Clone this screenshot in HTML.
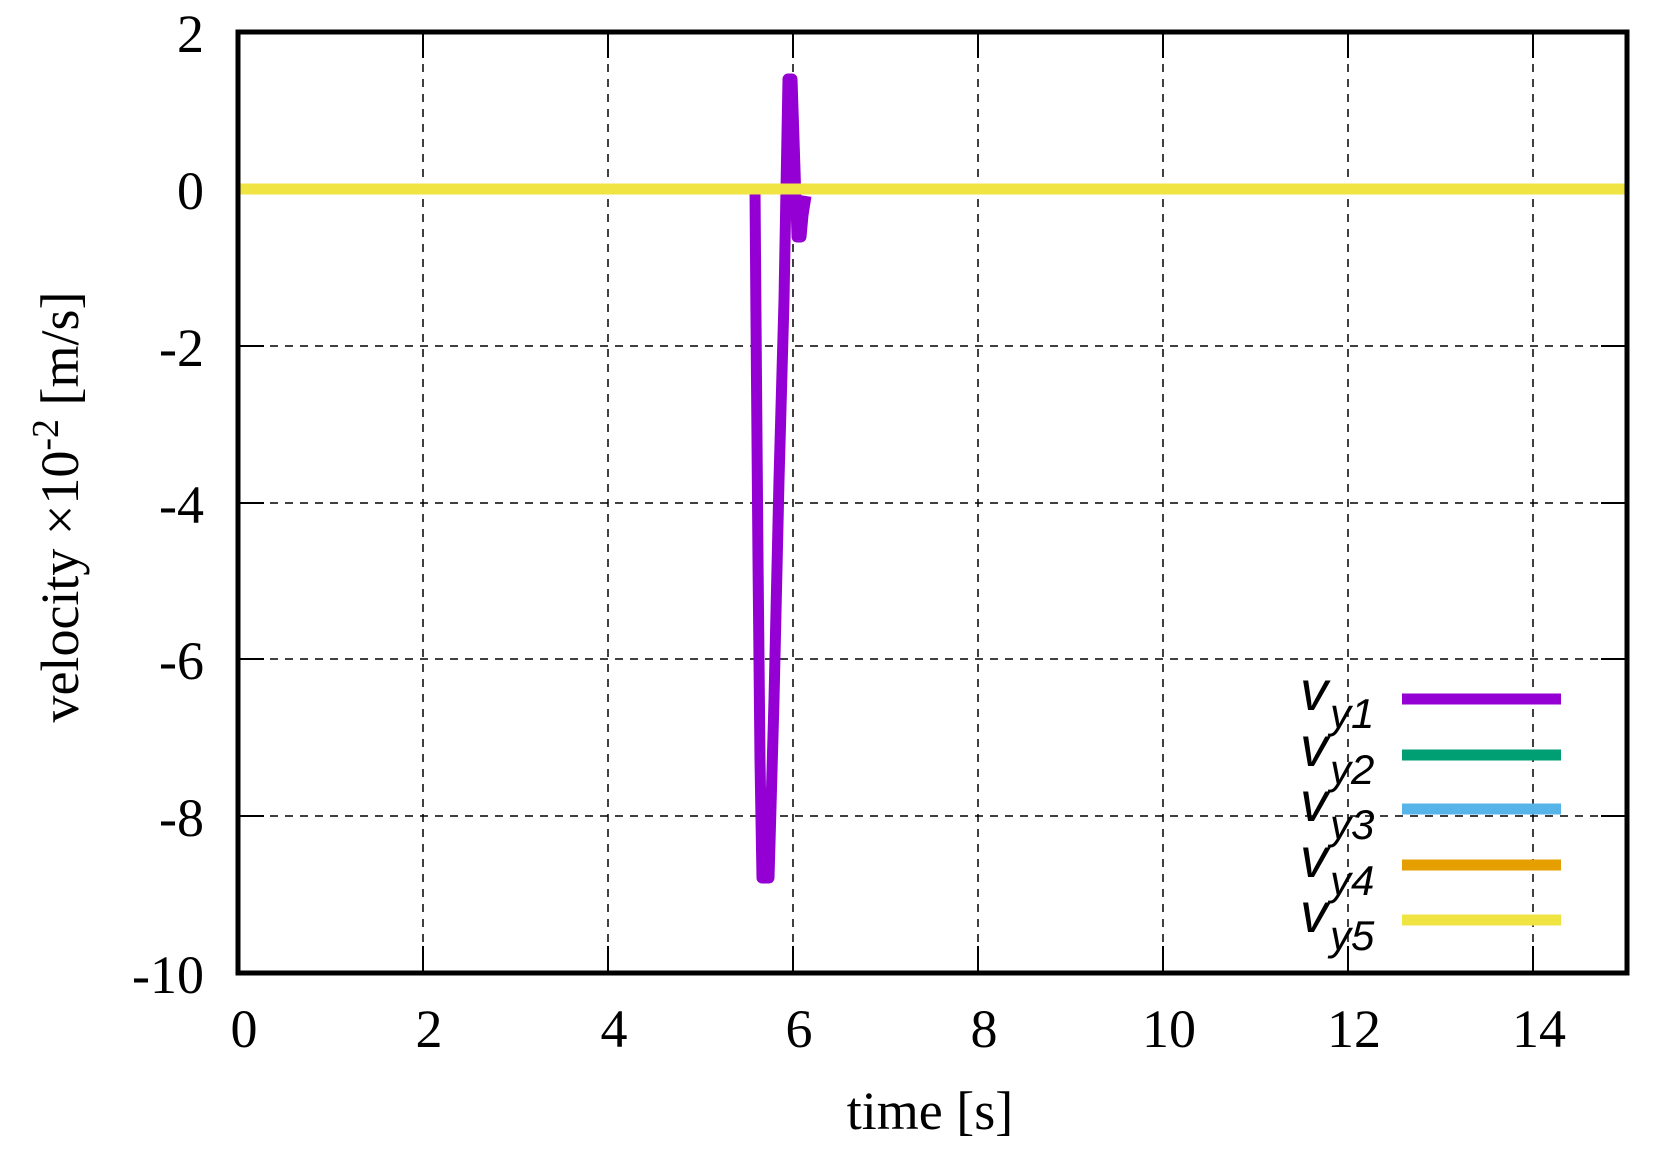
<!DOCTYPE html>
<html><head><style>body{margin:0;background:#fff}svg{display:block}</style></head><body>
<svg width="1657" height="1150" xmlns="http://www.w3.org/2000/svg">
<rect width="1657" height="1150" fill="#fff"/>
<g stroke="#000" stroke-width="1.5" stroke-dasharray="8,7">
<line x1="423" y1="34" x2="423" y2="971"/><line x1="608" y1="34" x2="608" y2="971"/><line x1="793" y1="34" x2="793" y2="971"/><line x1="978" y1="34" x2="978" y2="971"/><line x1="1163" y1="34" x2="1163" y2="971"/><line x1="1348" y1="34" x2="1348" y2="971"/><line x1="1533" y1="34" x2="1533" y2="971"/>
<line x1="240" y1="346" x2="1625" y2="346"/><line x1="240" y1="503" x2="1625" y2="503"/><line x1="240" y1="659" x2="1625" y2="659"/><line x1="240" y1="816" x2="1625" y2="816"/>
</g>
<g stroke="#000" stroke-width="2">
<line x1="423" y1="971" x2="423" y2="946"/><line x1="608" y1="971" x2="608" y2="946"/><line x1="793" y1="971" x2="793" y2="946"/><line x1="978" y1="971" x2="978" y2="946"/><line x1="1163" y1="971" x2="1163" y2="946"/><line x1="1348" y1="971" x2="1348" y2="946"/><line x1="1533" y1="971" x2="1533" y2="946"/>
<line x1="423" y1="34" x2="423" y2="58"/><line x1="608" y1="34" x2="608" y2="58"/><line x1="793" y1="34" x2="793" y2="58"/><line x1="978" y1="34" x2="978" y2="58"/><line x1="1163" y1="34" x2="1163" y2="58"/><line x1="1348" y1="34" x2="1348" y2="58"/><line x1="1533" y1="34" x2="1533" y2="58"/>
<line x1="240" y1="189" x2="264" y2="189"/><line x1="240" y1="346" x2="264" y2="346"/><line x1="240" y1="503" x2="264" y2="503"/><line x1="240" y1="659" x2="264" y2="659"/><line x1="240" y1="816" x2="264" y2="816"/>
<line x1="1625" y1="189" x2="1601" y2="189"/><line x1="1625" y1="346" x2="1601" y2="346"/><line x1="1625" y1="503" x2="1601" y2="503"/><line x1="1625" y1="659" x2="1601" y2="659"/><line x1="1625" y1="816" x2="1601" y2="816"/>
</g>
<polyline fill="none" stroke="#9400d3" stroke-width="11" stroke-linejoin="round" points="755,189 756,320 758,560 760,760 762,878 769,878 774,700 779,480 784,300 788,79 792,79 795,170 797,237 801,237 803,215 806,196"/>
<line x1="240" y1="189" x2="1625" y2="189" stroke="#f0e442" stroke-width="11"/>
<rect x="238" y="32" width="1389" height="941" fill="none" stroke="#000" stroke-width="5"/>
<g font-family="Liberation Serif, serif" font-size="54" fill="#000">
<g text-anchor="end">
<text x="204" y="52">2</text><text x="204" y="209">0</text><text x="204" y="366">-2</text><text x="204" y="523">-4</text><text x="204" y="679">-6</text><text x="204" y="836">-8</text><text x="204" y="993">-10</text>
</g>
<g text-anchor="middle">
<text x="244" y="1047">0</text><text x="429" y="1047">2</text><text x="614" y="1047">4</text><text x="799" y="1047">6</text><text x="984" y="1047">8</text><text x="1169" y="1047">10</text><text x="1354" y="1047">12</text><text x="1539" y="1047">14</text>
<text x="930" y="1129">time [s]</text>
</g>
<text transform="translate(78,507) rotate(-90)" text-anchor="middle">velocity ×10<tspan dy="-20" font-size="38">-2</tspan><tspan dy="20"> [m/s]</tspan></text>
</g>
<g font-family="Liberation Sans, sans-serif" font-style="italic" fill="#000">
<text x="1300" y="710" font-size="56">v<tspan dx="2" dy="18" font-size="42">y1</tspan></text>
<text x="1300" y="766" font-size="56">v<tspan dx="2" dy="18" font-size="42">y2</tspan></text>
<text x="1300" y="821" font-size="56">v<tspan dx="2" dy="18" font-size="42">y3</tspan></text>
<text x="1300" y="877" font-size="56">v<tspan dx="2" dy="18" font-size="42">y4</tspan></text>
<text x="1300" y="932" font-size="56">v<tspan dx="2" dy="18" font-size="42">y5</tspan></text>
</g>
<g stroke-width="11">
<line x1="1402" y1="699" x2="1561" y2="699" stroke="#9400d3"/>
<line x1="1402" y1="755" x2="1561" y2="755" stroke="#009e73"/>
<line x1="1402" y1="809" x2="1561" y2="809" stroke="#56b4e9"/>
<line x1="1402" y1="865" x2="1561" y2="865" stroke="#e69f00"/>
<line x1="1402" y1="920" x2="1561" y2="920" stroke="#f0e442"/>
</g>
</svg>
</body></html>
